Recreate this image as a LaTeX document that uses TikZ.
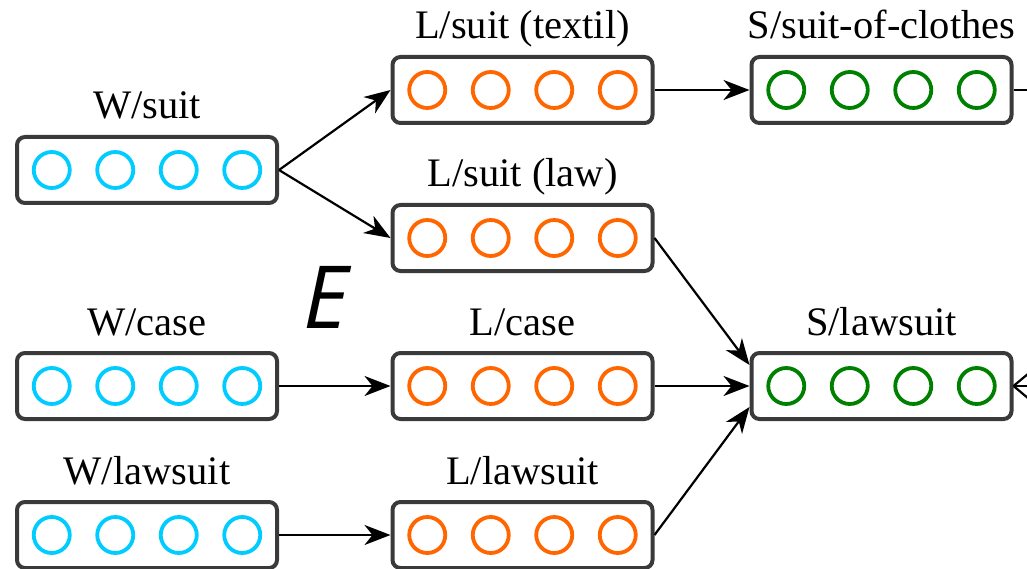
\documentclass[tikz,border=0pt]{standalone}
\usepackage{fontspec}
\setmainfont{Liberation Serif}
\newfontfamily\efont{Open Sans}
\usetikzlibrary{arrows.meta,calc}
\definecolor{boxgray}{HTML}{3A3A3A}
\definecolor{cw}{HTML}{00CCFF}
\definecolor{cl}{HTML}{FF6600}
\definecolor{cs}{HTML}{008000}
\tikzset{
 vecbox/.style={draw=boxgray, line width=4pt, rounded corners=8pt, minimum width=260pt, minimum height=66pt, inner sep=0pt, fill=white},
 unit/.style={line width=3.8pt},
 lbl/.style={anchor=base, font=\fontsize{40.5}{48}\selectfont, inner sep=0pt},
 conn/.style={line width=2.2pt, -{Stealth[length=26pt,width=20pt,inset=8pt]}},
 plain/.style={line width=2.2pt},
}
\newcommand\mybox[5]{%
 \node[vecbox] (#1) at (#2,#3) {};
 \foreach \dx in {-95.25,-31.75,31.75,95.25} \draw[unit,#4] ($(#1)+(\dx,0)$) circle (18pt);
 \node[lbl] (#1-l) at ($(#1.north)+(0,-16)$) {#5};
}
\begin{document}
\begin{tikzpicture}[x=1pt,y=-1pt]
\clip (0,0) rectangle (1027,569);
\mybox{w1}{147}{170}{cw}{W/suit}
\mybox{l1}{522.5}{90}{cl}{L/suit (textil)}
\mybox{s1}{881.5}{90}{cs}{S/suit-of-clothes}
\mybox{l2}{522.5}{238}{cl}{L/suit (law)}
\mybox{w2}{147}{386}{cw}{W/case}
\mybox{l3}{522.5}{386}{cl}{L/case}
\mybox{s2}{881.5}{386}{cs}{S/lawsuit}
\mybox{w3}{147}{535}{cw}{W/lawsuit}
\mybox{l4}{522.5}{535}{cl}{L/lawsuit}
\node[font=\efont\itshape\fontsize{87}{90}\selectfont, inner sep=0pt] (E) at (326,297) {E};
\coordinate (o1) at (1060,90);
\coordinate (o2) at (1060,347);
\coordinate (o3) at (1060,386);
\coordinate (o4) at (1060,425);
\draw[conn] (w1.east) -- (l1.west);
\draw[conn] (w1.east) -- (l2.west);
\draw[conn] (l1.east) -- (s1.west);
\draw[conn] (l2.east) -- ($(s2.west)+(0,-21)$);
\draw[conn] (l3.east) -- (s2.west);
\draw[conn] (l4.east) -- ($(s2.west)+(0,21)$);
\draw[conn] (w2.east) -- (l3.west);
\draw[conn] (w3.east) -- (l4.west);
\draw[plain] (s1.east) -- (o1);
\draw[plain] (s2.east) -- (o2);
\draw[plain] (s2.east) -- (o3);
\draw[plain] (s2.east) -- (o4);
\end{tikzpicture}
\end{document}
